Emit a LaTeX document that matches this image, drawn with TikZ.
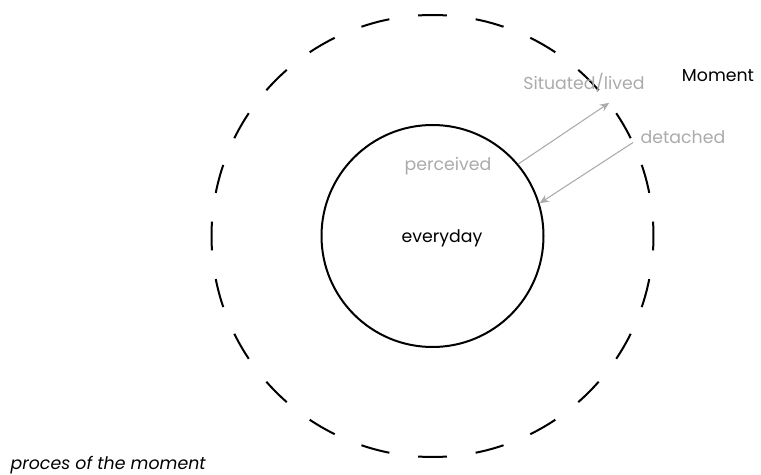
\documentclass[tikz,border=0pt]{standalone}
\usepackage{fontspec}
\setmainfont{Poppins}
\usetikzlibrary{arrows.meta}
\definecolor{softgrey}{HTML}{ABABAB}

\begin{document}
\begin{tikzpicture}[x=0.75pt, y=0.75pt, font=\fontsize{13}{15}\selectfont,
  ring/.style={circle, inner sep=0pt},
  faint/.style={text=softgrey},
  conn/.style={-{Stealth[length=7pt, width=6pt]}, softgrey, line width=0.8pt}]
\def\rin{111}
\def\rout{221}
\useasboundingbox (0,0) rectangle (761,475);
\coordinate (O) at (432.5,239);

% the two circles
\node[ring, draw, line width=1.5pt, minimum size=166.5pt] (everyday) at (O) {};
\node[ring, minimum size=331.5pt] (momentring) at (O) {};
\foreach \a in {0,15,...,345}
  \draw[line width=1.5pt] ([shift={(\a-3.75:\rout)}]O) arc[start angle=\a-3.75, end angle=\a+3.75, radius=\rout];

\draw[conn] (everyday.40.7) -- (momentring.37.2);
\draw[conn] (momentring.25.9) -- (everyday.17.5);

\node (everydaytext) at (442,237) {everyday};
\node[faint] (perceived) at (448,309) {perceived};
\node[faint] (situated) at (584,392) {Situated/lived};
\node[faint] (detached) at (683,338) {detached};
\node (moment) at (718,399) {Moment};
\node[anchor=west, font=\fontsize{13}{15}\selectfont\itshape] (proces) at (6,10) {proces of the moment};
\end{tikzpicture}
\end{document}
